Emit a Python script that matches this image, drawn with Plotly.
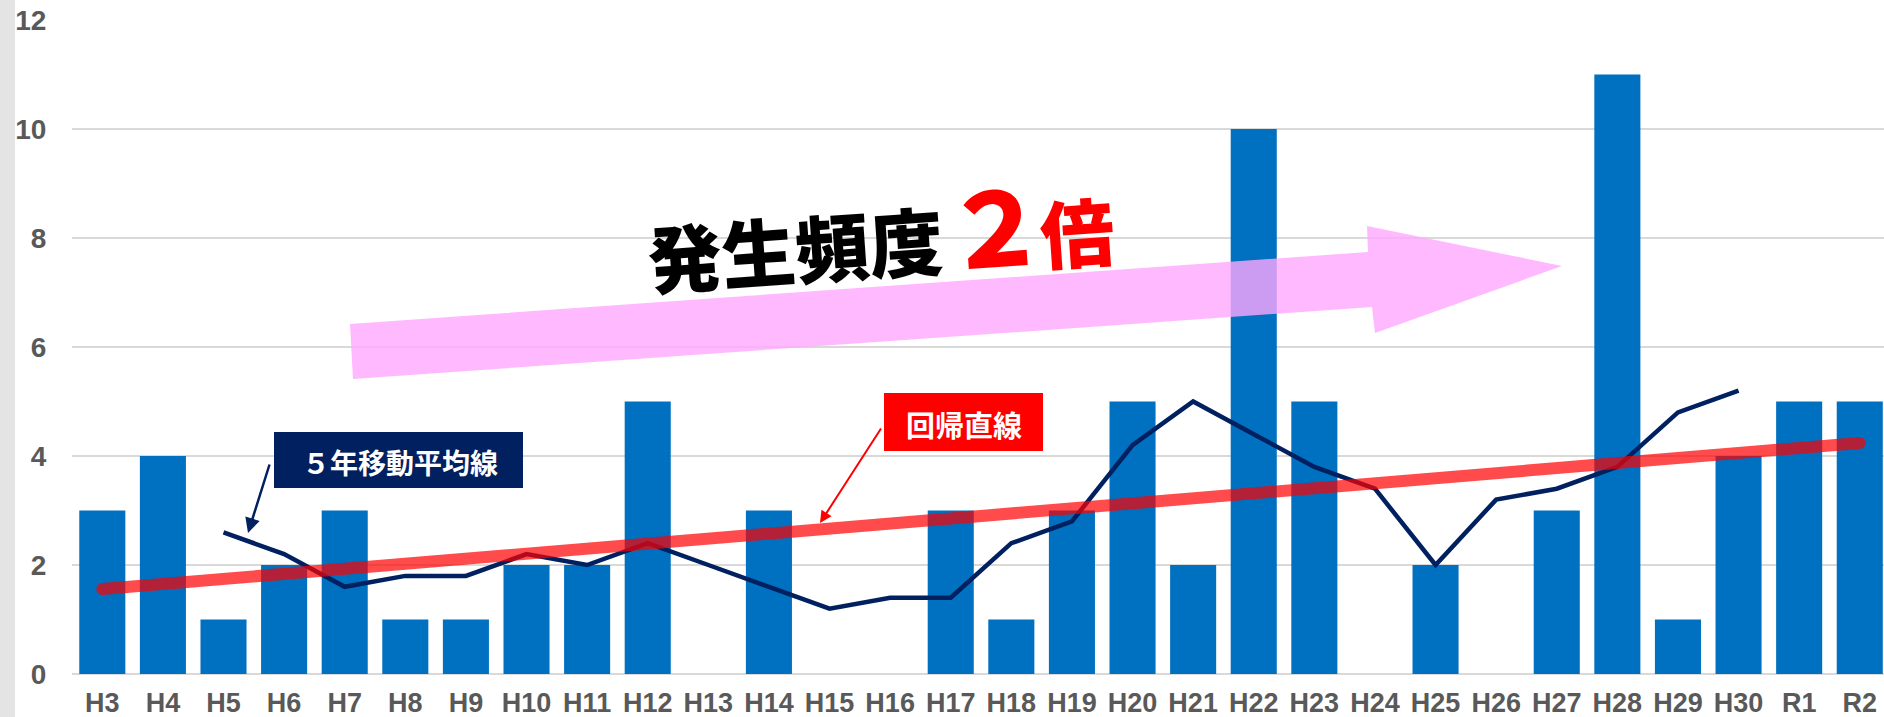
import plotly.graph_objects as go

# ---- data ----
categories = ["H3", "H4", "H5", "H6", "H7", "H8", "H9", "H10", "H11", "H12",
              "H13", "H14", "H15", "H16", "H17", "H18", "H19", "H20", "H21", "H22",
              "H23", "H24", "H25", "H26", "H27", "H28", "H29", "H30", "R1", "R2"]
counts = [3, 4, 1, 2, 3, 1, 1, 2, 2, 5,
          0, 3, 0, 0, 3, 1, 3, 5, 2, 10,
          5, 0, 2, 0, 3, 11, 1, 4, 5, 5]
ma_categories = ["H5", "H6", "H7", "H8", "H9", "H10", "H11", "H12", "H13", "H14",
                 "H15", "H16", "H17", "H18", "H19", "H20", "H21", "H22", "H23", "H24",
                 "H25", "H26", "H27", "H28", "H29", "H30"]
ma_values = [2.6, 2.2, 1.6, 1.8, 1.8, 2.2, 2.0, 2.4, 2.0, 1.6,
             1.2, 1.4, 1.4, 2.4, 2.8, 4.2, 5.0, 4.4, 3.8, 3.4,
             2.0, 3.2, 3.4, 3.8, 4.8, 5.2]
reg_categories = ["H3", "R2"]
reg_values = [1.56, 4.24]
y_ticks = [0, 2, 4, 6, 8, 10, 12]

W, H = 1884, 717
ML, MR, MT, MB = 72, 0, 20, 43
PW, PH = W - ML - MR, H - MT - MB


def px(x):
    return (x - ML) / PW


def py(y):
    return (H - MB - y) / PH


LATIN = "Liberation Sans, Arial"
CJK = "Noto Sans CJK JP"

fig = go.Figure()
fig.add_trace(go.Bar(x=categories, y=counts, marker=dict(color="#0070c0", line=dict(width=0)),
                     hoverinfo="x+y"))
fig.add_trace(go.Scatter(x=ma_categories, y=ma_values, mode="lines",
                         line=dict(color="#002060", width=4.5)))
fig.add_trace(go.Scatter(x=reg_categories, y=reg_values, mode="lines+markers",
                         line=dict(color="#ff0000", width=12),
                         marker=dict(color="#ff0000", size=12, line=dict(width=0)),
                         opacity=0.7))

shapes = []
# textured left strip
shapes.append(dict(type="rect", xref="paper", yref="paper", x0=px(0), x1=px(15),
                   y0=py(H), y1=py(0), fillcolor="#e4e4e4", line=dict(width=0), layer="below"))
# big pink arrow
pts = [(350, 324), (1368, 252), (1367, 226), (1562, 266), (1375, 333), (1372, 307), (353, 379)]
path = "M " + " L ".join(f"{px(a):.5f},{py(b):.5f}" for a, b in pts) + " Z"
shapes.append(dict(type="path", xref="paper", yref="paper", path=path,
                   fillcolor="rgb(255,167,255)", opacity=0.8, line=dict(width=0), layer="above"))
# label boxes
shapes.append(dict(type="rect", xref="paper", yref="paper", x0=px(274), x1=px(523),
                   y0=py(488), y1=py(432), fillcolor="#002060", line=dict(width=0), layer="above"))
shapes.append(dict(type="rect", xref="paper", yref="paper", x0=px(884), x1=px(1043),
                   y0=py(451), y1=py(393), fillcolor="#ff0000", line=dict(width=0), layer="above"))

annotations = [
    dict(text="発生頻度", x=px(795), y=py(246), xref="paper", yref="paper", showarrow=False,
         xanchor="center", yanchor="middle", textangle=-4,
         font=dict(family=CJK, size=74, color="#000000", weight=900)),
    dict(text="２", x=px(995), y=py(223), xref="paper", yref="paper", showarrow=False,
         xanchor="center", yanchor="middle", textangle=-4,
         font=dict(family=CJK, size=102, color="#ff0000", weight=900)),
    dict(text="倍", x=px(1077), y=py(230), xref="paper", yref="paper", showarrow=False,
         xanchor="center", yanchor="middle", textangle=-4,
         font=dict(family=CJK, size=74, color="#ff0000", weight=900)),
    dict(text="５年移動平均線", x=px(400), y=py(462), xref="paper", yref="paper", showarrow=False,
         xanchor="center", yanchor="middle",
         font=dict(family=CJK, size=28, color="#ffffff", weight="bold")),
    dict(text="回帰直線", x=px(964), y=py(424), xref="paper", yref="paper", showarrow=False,
         xanchor="center", yanchor="middle",
         font=dict(family=CJK, size=29, color="#ffffff", weight="bold")),
    # pointer arrows
    dict(text="", x=px(248), y=py(533), xref="paper", yref="paper", showarrow=True,
         ax=22, ay=-70, arrowhead=2, arrowsize=1.2, arrowwidth=2.5, arrowcolor="#002060",
         standoff=0, startstandoff=0),
    dict(text="", x=px(820), y=py(523), xref="paper", yref="paper", showarrow=True,
         ax=62, ay=-96, arrowhead=2, arrowsize=1.2, arrowwidth=2, arrowcolor="#ff0000",
         standoff=0, startstandoff=0),
]

fig.update_layout(
    width=W, height=H,
    margin=dict(l=ML, r=MR, t=MT, b=MB, pad=0, autoexpand=False),
    paper_bgcolor="#ffffff", plot_bgcolor="#ffffff",
    showlegend=False, bargap=0.24,
    shapes=shapes, annotations=annotations,
)
fig.update_xaxes(type="category", range=[-0.5, 29.4], showgrid=False, showline=False,
                 zeroline=False, ticks="outside", ticklen=5, tickcolor="rgba(0,0,0,0)",
                 tickangle=0, automargin=False,
                 tickfont=dict(family=LATIN, size=27, color="#595959", weight="bold"))
fig.update_yaxes(range=[0, 12], tickvals=y_ticks, showgrid=True, gridcolor="#d9d9d9",
                 gridwidth=1.5, zeroline=True, zerolinecolor="#d9d9d9", zerolinewidth=1.5,
                 showline=False, ticks="outside", ticklen=19, tickcolor="rgba(0,0,0,0)",
                 automargin=False,
                 tickfont=dict(family=LATIN, size=28, color="#595959", weight="bold"))

fig.write_html("out.html", config={"displayModeBar": False},
               post_script="document.body.style.margin='0px';document.body.style.overflow='hidden';")
